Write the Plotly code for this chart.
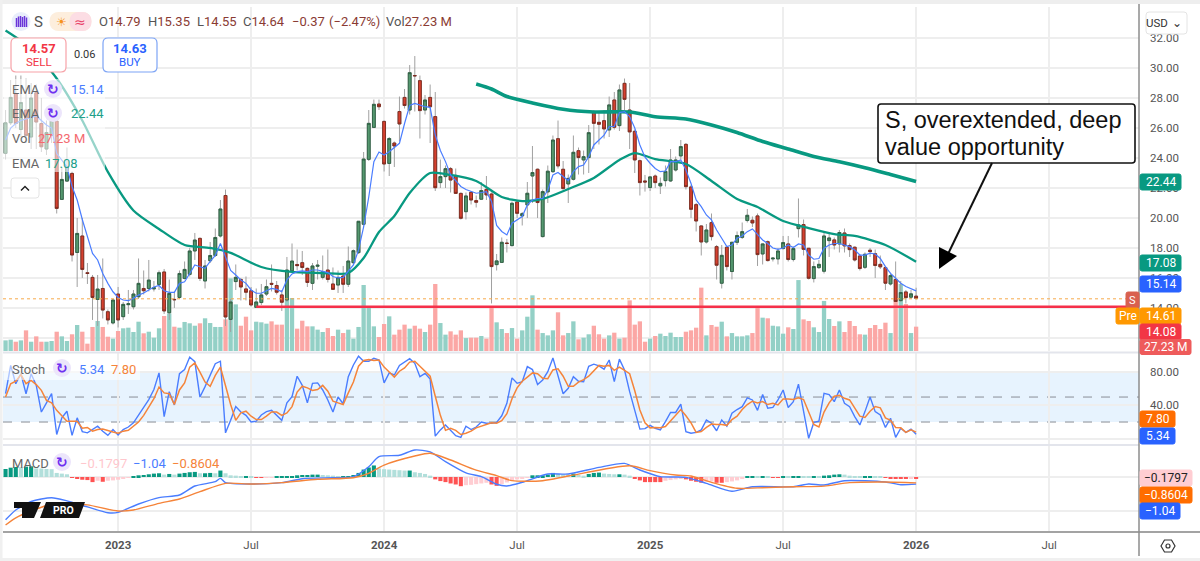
import pandas as pd
import plotly.graph_objects as go

opens = [24.31,26.35,28.3,25.9,27.2,25.4,28.35,26.3,24.6,25.5,26.46,21.24,22.46,22.97,17.7,18.8,16.35,16.04,14.57,15.3,
13.75,13.0,14.93,13.42,14.22,14.08,14.75,15.3,15.3,15.27,15.57,16.4,13.68,14.57,14.7,15.97,16.24,17.8,18.64,15.8,
17.15,17.5,18.8,21.5,13.24,15.76,15.9,15.27,15.15,14.04,14.36,14.93,15.64,15.5,14.87,14.53,16.48,16.9,17.02,16.64,
15.64,16.78,16.04,16.53,15.6,15.53,16.13,15.58,17.02,17.69,19.58,23.91,26.04,27.6,26.44,23.64,25.0,27.1,28.04,27.2,
29.5,29.16,27.2,28.04,26.76,22.36,22.76,23.29,22.84,21.64,20.42,21.71,21.16,21.25,21.91,21.6,16.89,17.04,18.33,18.16,
21.07,20.14,20.87,22.8,23.25,18.76,21.74,23.09,25.29,23.25,22.27,22.58,24.49,23.87,24.03,27.09,26.38,26.49,25.87,27.87,
26.16,28.98,27.2,25.78,23.82,22.47,22.03,22.8,22.14,22.49,22.47,23.2,24.14,24.91,22.07,20.89,19.47,18.4,19.69,18.09,
15.65,18.05,16.43,18.38,18.71,19.83,19.85,20.14,17.6,18.42,17.27,17.27,17.96,18.27,17.23,19.29,19.56,17.98,15.96,16.69,
16.45,18.49,18.54,18.27,19.0,18.16,18.05,17.47,16.71,17.85,17.62,16.91,16.69,15.6,15.9,14.49,15.07,14.72,14.79]
highs = [27.2,29.2,29.5,29.5,29.3,29.0,28.9,28.0,26.5,27.5,26.6,23.4,24.7,23.1,20.0,20.0,17.0,16.2,16.2,17.3,
13.9,14.6,15.4,14.4,15.2,15.2,17.3,16.5,17.2,15.8,16.5,16.6,15.9,15.1,16.5,17.1,18.0,19.0,18.7,17.2,
18.4,19.3,21.2,21.9,14.6,16.9,16.0,16.1,15.4,15.3,15.6,15.9,16.9,15.8,15.2,17.4,18.3,17.9,17.8,16.7,
17.0,17.2,17.5,17.9,16.7,16.5,16.8,18.1,17.9,19.8,24.4,27.2,27.9,27.9,26.5,25.4,25.1,28.1,28.6,30.2,
30.8,29.5,28.2,28.9,28.4,23.9,23.5,23.4,23.3,21.7,21.7,21.8,21.5,22.4,22.8,21.7,17.6,18.7,18.6,21.1,
21.1,20.4,22.4,24.8,23.3,21.9,23.5,25.5,26.5,23.8,22.9,25.5,24.7,24.5,26.2,27.2,27.1,27.2,28.1,28.4,
28.9,29.3,29.0,25.9,23.9,22.87,22.8,22.9,22.7,23.5,24.6,24.1,25.2,25.0,22.2,21.0,19.5,19.6,20.3,18.2,
18.2,18.1,18.4,19.1,19.7,20.6,20.1,20.3,18.3,18.5,17.4,18.0,18.8,18.8,18.1,21.3,19.9,18.0,17.1,17.2,
19.1,19.0,18.7,19.2,19.3,18.3,18.1,17.6,17.7,18.0,17.9,17.5,16.8,16.3,17.1,15.8,15.2,15.2,15.35]
lows = [23.9,26.2,26.0,25.4,25.0,24.6,24.6,24.4,24.2,25.0,20.3,21.2,22.4,17.1,15.4,16.0,15.6,13.2,12.8,13.3,
12.9,12.9,12.7,13.2,13.6,13.9,14.6,14.9,15.1,15.1,15.2,13.6,13.2,14.0,14.6,15.9,16.1,17.2,15.8,15.3,
17.0,17.4,18.7,12.8,12.4,15.2,14.5,14.5,14.1,14.0,14.2,14.8,15.1,14.9,13.8,14.4,16.4,16.5,16.2,15.4,
15.2,15.9,15.9,15.7,15.2,15.0,15.0,15.4,16.9,17.6,19.5,23.8,26.0,27.2,23.1,22.8,23.4,25.1,27.3,26.9,
27.1,25.3,26.9,25.0,21.8,22.0,22.0,21.7,21.6,19.9,19.9,20.9,20.7,21.2,21.2,14.3,16.5,17.0,17.7,18.1,
20.0,19.5,20.0,21.0,20.0,18.7,21.0,23.0,23.3,21.9,21.0,22.5,22.9,22.9,23.0,24.6,24.9,25.3,25.4,25.9,
25.8,27.2,24.6,23.0,21.5,21.76,21.8,22.0,21.6,22.1,22.4,23.1,23.9,21.9,20.0,19.1,17.5,18.3,18.5,15.9,
15.3,16.5,15.9,18.2,18.6,19.7,19.4,16.8,16.9,17.1,17.1,16.9,17.9,17.1,17.1,18.7,17.5,15.9,15.7,16.6,
16.3,17.4,17.9,17.7,17.7,17.4,17.1,16.5,16.6,17.4,16.0,16.6,15.2,15.5,14.4,14.4,14.3,14.6,14.55]
closes = [26.35,28.04,26.3,27.7,25.5,28.0,26.4,24.75,25.7,26.5,20.64,22.57,23.4,17.53,18.97,16.57,16.3,14.7,15.26,13.86,
13.2,14.53,13.2,14.24,14.28,14.93,15.64,15.15,15.86,15.35,16.35,13.8,14.97,14.55,16.3,16.57,17.8,18.53,15.97,16.8,
17.5,18.7,20.6,13.4,14.4,16.04,15.4,15.05,14.2,14.4,14.87,15.42,15.58,15.05,14.38,16.53,17.13,16.82,16.7,15.7,
16.8,16.85,16.42,15.9,15.24,16.04,15.58,17.13,17.82,19.78,23.93,26.31,27.58,27.42,23.6,25.3,24.8,26.27,27.5,29.69,
29.48,27.16,27.87,27.42,22.02,22.76,23.29,22.53,21.64,19.98,21.47,21.2,21.05,21.83,21.54,16.76,17.14,18.38,18.3,20.98,
20.31,20.29,21.65,23.03,21.03,21.76,23.12,25.2,23.47,21.96,22.64,24.38,24.03,24.09,25.69,26.31,26.25,25.94,27.54,26.05,
28.54,27.91,25.74,23.87,22.36,22.4,22.74,22.36,22.31,23.11,23.87,23.87,24.76,22.09,20.58,19.8,18.4,19.2,18.76,16.85,
17.51,16.76,18.38,18.83,19.09,20.18,19.67,17.56,18.27,17.16,17.32,17.8,18.36,17.23,17.96,19.54,17.91,15.98,16.76,16.91,
18.8,18.67,18.2,19.03,18.14,17.89,17.2,16.63,17.58,17.76,16.83,16.74,15.65,16.16,14.43,15.03,14.69,14.94,14.64]
volumes = [11.9,12.7,10.4,11.9,23.1,10.4,16.4,10.4,10.4,11.2,21.6,16.4,11.2,18.7,29.1,21.6,8.2,26.9,33.6,26.9,
16.0,13.8,22.4,25.4,26.1,21.3,32.8,19.8,21.6,14.9,25.4,39.2,42.1,27.2,26.1,32.5,31.0,28.3,31.0,36.6,
31.3,26.9,26.9,35.4,81.3,52.2,28.3,38.4,23.1,32.8,32.1,30.6,33.2,29.5,29.5,59.3,59.3,25.0,33.9,27.6,
27.6,23.9,21.3,25.7,16.8,23.9,20.1,23.9,13.8,26.9,73.9,50.4,27.6,15.7,30.2,38.8,18.3,23.9,29.5,25.0,
28.3,25.0,21.3,29.5,75.0,31.3,18.3,22.0,18.3,23.1,14.5,14.9,14.9,16.8,13.8,49.2,32.1,24.6,20.1,25.7,
13.8,23.1,38.4,62.3,23.9,20.1,17.5,23.1,43.3,17.5,20.1,33.2,13.1,14.9,18.7,28.3,18.7,13.8,17.5,20.5,
13.8,14.9,56.7,29.5,33.2,10.4,13.8,16.8,19.4,16.8,20.5,15.7,15.7,21.6,23.1,26.1,70.9,17.5,29.1,27.2,
32.8,16.4,20.1,16.4,16.4,17.5,20.1,50.0,37.3,36.6,28.3,27.6,19.4,26.5,24.6,79.4,35.4,33.6,26.5,21.3,
56.0,35.8,28.0,33.2,21.3,33.6,28.0,18.7,18.3,25.7,29.1,24.6,31.7,20.1,59.3,75.0,52.6,20.1,27.23]
ema_fast = [25.2,26.0,26.3,26.5,26.6,26.7,26.8,26.5,26.2,26.0,24.3,23.86,23.4,22.1,21.2,19.9,18.75,17.64,17.2,16.3,
15.64,15.08,14.7,14.53,14.49,14.64,14.86,15.0,15.2,15.4,15.5,15.15,15.04,15.04,15.64,15.75,16.3,16.87,16.75,16.64,
17.1,17.5,18.3,17.4,16.5,16.2,15.87,15.64,15.2,14.98,14.98,15.15,15.3,15.24,15.09,15.87,16.27,16.42,16.47,16.42,
16.53,16.53,16.42,16.36,16.1,16.0,16.04,16.42,16.87,17.87,19.4,21.4,23.76,24.4,24.2,24.42,24.7,24.98,26.3,27.5,
27.64,27.53,27.42,27.38,25.53,24.5,23.76,22.87,22.5,22.1,21.9,21.76,21.65,21.7,21.76,21.1,19.5,19.1,18.87,19.65,
19.87,20.1,20.87,21.2,21.3,21.3,21.87,22.87,23.03,22.76,22.5,23.1,23.43,23.53,24.09,24.87,25.2,25.53,26.1,26.1,
27.03,27.09,26.76,26.0,24.87,24.05,23.65,23.3,23.09,23.13,23.76,23.76,23.87,23.2,22.3,21.2,20.76,20.2,19.87,19.2,
18.65,18.09,18.2,18.65,18.8,19.09,19.27,18.87,18.53,18.3,18.0,17.91,18.0,18.2,18.03,18.27,18.2,17.53,17.25,17.3,
17.98,18.2,18.3,18.3,18.2,18.09,17.87,17.53,17.53,17.65,17.6,17.3,16.76,16.3,15.98,15.65,15.43,15.27,15.14]
ema_mid_bars = [0,5,10,15,20,25,30,35,40,44,50,56,62,67,70,73,76,79,83,87,92,97,101,105,110,115,120,123,127,133,138,143,147,152,157,162,166,172,178]
ema_mid = [32.5,31.3,29.3,26.5,23.07,20.5,19.27,18.2,18.0,17.67,16.73,16.4,16.33,16.33,17.33,19.07,20.13,21.67,23.0,22.87,22.47,21.4,21.13,21.27,21.93,22.67,23.87,24.33,23.93,23.6,22.47,21.27,20.73,19.8,19.33,18.93,18.8,18.2,17.08]
ema_slow_bars = [92,95,98,103,109,115,122,127,133,138,143,148,153,158,163,168,173,178]
ema_slow = [28.93,28.6,28.1,27.67,27.25,27.07,27.07,26.75,26.6,26.2,25.7,25.1,24.6,24.1,23.75,23.35,22.9,22.44]
stoch_k = [54,88,66,78,54,78,64,32,43,54,5,25,33,4,25,8.5,7,10.5,15,9,
4,11,4.5,11,14,19,28,38,47,59,79,26.5,56.5,40.5,78,83,98,92.5,50,62.5,
76.5,90,93,7,22,38.5,32,28,20,21,28.5,32.5,34,28.5,22,43,50.5,75,64,43,
66.5,67,58.5,46.5,32,50,42,74.5,88.5,99,93,93,96.5,94.5,67,79,76.5,88,92.5,96,
90.5,74.5,78.5,71.5,3,10.5,16.5,10.5,3.5,1.5,15,11,14,20,18.5,18.5,19.5,27.5,42.5,73,
66.5,68.5,86.5,83,65,70.5,80.5,97,74.5,54,60.5,74.5,69,68.5,87,89.5,87.5,83.5,94.5,68.5,
95.5,82.5,56.5,34.5,11.5,12,16,12.5,10.5,20.5,31.5,31.5,41.5,8.5,6.5,7.5,10.5,22.5,18.5,9.5,
22.5,15,30.5,35,38.5,49,46.5,34,53,36.5,37.5,46.5,58.5,37.5,44.5,65.5,30.5,0.5,19.5,21,
54.5,53,44.5,58.5,42.5,38.5,26.5,16.5,32.5,50,32.5,28.5,13.5,24.5,1.5,12.5,7.5,11.5,5.34]
stoch_d = [50,66,69,77,66,70,65,58,46,43,34,28,21,21,21,12.5,13.5,9,11,11.5,
9.5,8,6.5,9,10,15,20,28,38,48,62,55,54,41,58.5,67,86,91,80,68,
63,76,86,63,41,22,31,33,27,23,23,27,32,32,28,31,38.5,56,63,61,
58,59,64,57,45,43,41,55,68,87,94,95,94,94.5,86,80,74,81,85,92,
93,87,81,75,51,28,10,12.5,10,5,6.5,9,13,15,17.5,19,18.5,21.5,30,48,
61,69,74,79,78,72.5,72,82.5,84,75,63,63,68,71,75,82,88,87,88,82,
86,82,78,57.5,34.5,19,13,13.5,13,14.5,21,27.5,35,27.5,19,7.5,8.5,13.5,17.5,17,
17,16,23,27,35,41,45,43,44.5,41,42.5,40.5,47.5,47.5,47,49,47,32,17,14,
32,43,51,52,48.5,46.5,36,27,25.5,33,38.5,37,25,22,13.5,13,7.5,10.5,7.8]
macd_bars = [0,2,5,9,12,16,20,22,26,30,34,37,41,42,43,48,54,58,64,68,71,73,77,80,83,86,90,93,95,96,98,101,106,110,116,121,124,128,133,137,142,146,154,157,160,164,172,175,178]
macd_line = [-6.3,-4.85,-3.6,-3.04,-3.5,-4.4,-5.25,-5.2,-3.97,-3.04,-2.65,-1.32,-0.69,-0.2,-0.83,-1.03,-0.83,-0.25,-0.1,0.05,1.5,3.0,3.2,3.97,3.7,2.25,0.6,0.05,-0.69,-1.07,-1.32,-0.78,0.44,0.44,1.42,2.0,1.03,0.05,-0.05,-0.93,-2.1,-1.43,-1.43,-1.03,-1.18,-0.54,-0.74,-1.13,-1.04]
signal_bars = [0,2,5,9,12,16,22,25,30,34,38,43,48,54,61,68,71,74,80,83,87,92,96,99,105,110,122,126,131,134,138,143,147,154,160,165,172,178]
signal_line = [-7.06,-6.0,-5.0,-4.0,-3.9,-4.1,-5.0,-4.85,-3.87,-3.24,-2.16,-0.93,-1.03,-0.83,-0.34,-0.1,0.54,1.76,3.09,3.5,2.5,1.0,0.2,-0.54,-0.54,0.15,1.66,0.93,0.29,0.15,-0.78,-1.66,-1.6,-1.43,-1.34,-0.83,-0.74,-0.86]
macd_hist = [1.18,1.37,1.47,1.45,1.52,1.57,1.27,1.25,1.18,1.15,0.6,0.5,0.4,-0.1,-0.2,-0.4,-0.45,-0.75,-0.55,-0.7,
-0.55,-0.5,-0.4,-0.2,-0.05,0.1,0.25,0.3,0.4,0.5,0.55,0.35,0.45,0.35,0.5,0.6,0.7,0.75,0.55,0.55,
0.6,0.55,0.95,0.55,0.25,0.2,0.1,0.1,0.05,-0.05,-0.1,-0.05,-0.03,0.05,0.05,0.1,0.15,0.25,0.3,0.3,
0.35,0.35,0.3,0.25,0.2,0.1,0.1,0.1,0.3,0.6,1.1,1.4,1.7,1.25,1.15,1.1,1.05,1.0,0.95,0.95,
0.7,0.6,0.45,0.2,-0.35,-0.6,-0.75,-0.95,-1.1,-1.35,-1.2,-1.15,-1.05,-0.95,-0.85,-1.1,-1.3,-1.05,-0.8,-0.55,
-0.35,-0.15,-0.1,0.25,0.25,0.25,0.35,0.6,0.45,0.4,0.35,0.5,0.3,0.2,0.45,0.6,0.65,0.5,0.45,0.4,
0.4,0.35,0.2,-0.25,-0.5,-0.75,-0.75,-0.75,-0.75,-0.55,-0.45,-0.35,-0.25,-0.35,-0.55,-0.7,-0.85,-0.7,-0.65,-0.85,
-0.85,-0.75,-0.65,-0.5,-0.3,0.05,0.1,0.05,0.05,0.03,-0.03,-0.03,0.08,0.03,0.05,0.15,0.08,0.03,0.03,0.02,
0.2,0.25,0.35,0.4,0.35,0.2,0.15,0.1,0.1,0.15,0.05,0.02,-0.1,-0.15,-0.15,-0.2,-0.25,-0.15,-0.18]

support_level = 14.08
premarket_price = 14.61
price_ticks = [12,14,16,18,20,22,24,26,28,30,32]
stoch_ticks = [0,40,80]
stoch_levels = [80,50,20]
macd_ticks = [-5,0]
time_ticks = ["2023-01-02","2023-07-03","2024-01-01","2024-07-01","2024-12-30","2025-06-30","2025-12-29","2026-06-29"]
time_labels = ["<b>2023</b>","Jul","<b>2024</b>","Jul","<b>2025</b>","Jul","<b>2026</b>","Jul"]

dates = pd.date_range("2022-08-01", periods=len(closes), freq="7D")
x_range = ["2022-07-28 12:00", "2026-10-30"]
W, H = 1200, 561
def px(x): return x / W
def py(y): return 1 - y / H

UP_BODY, UP_EDGE = "#55986f", "#2c5d42"
DN_BODY, DN_EDGE = "#d5402f", "#7c2a1e"
WICK = "#a0a0a0"
GRID = "#eeeeee"
TEAL, BLUE, ORANGE, RED = "#089981", "#2962ff", "#ff6d00", "#f23645"
FONT = "Roboto"

is_up = [c >= o for o, c in zip(opens, closes)]
vol_colors = ["#93d0c6" if u else "#fba7a5" for u in is_up]
hist_colors = []
prev = 0
for v in macd_hist:
    if v >= 0:
        hist_colors.append(TEAL if v >= prev else "#b2dfdb")
    else:
        hist_colors.append("#ff5252" if v <= prev else "#ffcdd2")
    prev = v
body_hi = [max(o, c) for o, c in zip(opens, closes)]
body_lo = [min(o, c) for o, c in zip(opens, closes)]
day_ms = 86400000
SMOOTH = dict(shape="spline", smoothing=0.7)

fig = go.Figure()
fig.add_trace(go.Bar(x=dates, y=volumes, marker=dict(color=vol_colors, line_width=0), width=5.9*day_ms, yaxis="y", xaxis="x", hoverinfo="skip"))
fig.add_trace(go.Candlestick(x=dates, open=opens, high=highs, low=lows, close=closes, yaxis="y2", xaxis="x", whiskerwidth=0,
    increasing=dict(line=dict(color=WICK, width=1), fillcolor=UP_BODY),
    decreasing=dict(line=dict(color=WICK, width=1), fillcolor=DN_BODY), hoverinfo="skip"))
fig.add_trace(go.Candlestick(x=dates, open=opens, high=body_hi, low=body_lo, close=closes, yaxis="y2", xaxis="x", whiskerwidth=0,
    increasing=dict(line=dict(color=UP_EDGE, width=0.9), fillcolor=UP_BODY),
    decreasing=dict(line=dict(color=DN_EDGE, width=0.9), fillcolor=DN_BODY), hoverinfo="skip"))
fig.add_trace(go.Scatter(x=dates[ema_mid_bars], y=ema_mid, mode="lines", line=dict(color=TEAL, width=2.3, **SMOOTH), yaxis="y2", hoverinfo="skip"))
fig.add_trace(go.Scatter(x=dates[ema_slow_bars], y=ema_slow, mode="lines", line=dict(color=TEAL, width=3.6, **SMOOTH), yaxis="y2", hoverinfo="skip"))
fig.add_trace(go.Scatter(x=dates, y=ema_fast, mode="lines", line=dict(color="#4a7dff", width=1.2), yaxis="y2", hoverinfo="skip"))
fig.add_trace(go.Scatter(x=[dates[49], x_range[1]], y=[support_level]*2, mode="lines", line=dict(color="#f5304a", width=2.6), yaxis="y2", hoverinfo="skip"))
fig.add_trace(go.Scatter(x=dates, y=stoch_k, mode="lines", line=dict(color="#4a7dff", width=1.4), yaxis="y3", hoverinfo="skip"))
fig.add_trace(go.Scatter(x=dates, y=stoch_d, mode="lines", line=dict(color="#f5843a", width=1.5), yaxis="y3", hoverinfo="skip"))
fig.add_trace(go.Bar(x=dates, y=macd_hist, marker=dict(color=hist_colors, line_width=0), width=5.6*day_ms, yaxis="y4", hoverinfo="skip"))
fig.add_trace(go.Scatter(x=dates[macd_bars], y=macd_line, mode="lines", line=dict(color="#4a7dff", width=1.4, **SMOOTH), yaxis="y4", hoverinfo="skip"))
fig.add_trace(go.Scatter(x=dates[signal_bars], y=signal_line, mode="lines", line=dict(color="#f5843a", width=1.4, **SMOOTH), yaxis="y4", hoverinfo="skip"))

shapes, ann = [], []
def rect(x0, y0, x1, y1, fill="rgba(0,0,0,0)", line=None, lw=1, layer="above"):
    shapes.append(dict(type="rect", xref="paper", yref="paper", x0=px(x0), x1=px(x1), y0=py(y0), y1=py(y1),
                       fillcolor=fill, line=dict(color=line or "rgba(0,0,0,0)", width=lw if line else 0), layer=layer))
def seg(x0, y0, x1, y1, color, lw=1, layer="above"):
    shapes.append(dict(type="line", xref="paper", yref="paper", x0=px(x0), x1=px(x1), y0=py(y0), y1=py(y1),
                       line=dict(color=color, width=lw), layer=layer))
def poly(points, fill, line=None, lw=0):
    p = "M " + " L ".join(f"{px(x):.5f},{py(y):.5f}" for x, y in points) + " Z"
    shapes.append(dict(type="path", xref="paper", yref="paper", path=p, fillcolor=fill,
                       line=dict(color=line or fill, width=lw)))
def rrect(x0, y0, x1, y1, r, fill, line, lw=1):
    p = (f"M {px(x0+r)},{py(y0)} L {px(x1-r)},{py(y0)} Q {px(x1)},{py(y0)} {px(x1)},{py(y0+r)} "
         f"L {px(x1)},{py(y1-r)} Q {px(x1)},{py(y1)} {px(x1-r)},{py(y1)} L {px(x0+r)},{py(y1)} "
         f"Q {px(x0)},{py(y1)} {px(x0)},{py(y1-r)} L {px(x0)},{py(y0+r)} Q {px(x0)},{py(y0)} {px(x0+r)},{py(y0)} Z")
    shapes.append(dict(type="path", xref="paper", yref="paper", path=p, fillcolor=fill, line=dict(color=line, width=lw)))
def text(x, y, s, size=13, color="#555555", anchor="left", family=FONT):
    ann.append(dict(xref="paper", yref="paper", x=px(x), y=py(y), text=s, showarrow=False, xanchor=anchor, yanchor="middle",
                    font=dict(size=size, color=color, family=family), borderpad=0, borderwidth=0))
def tag(x0, x1, y, s, bg, color="#ffffff", h=16, size=12):
    rrect(x0, y - h/2, x1, y + h/2, 2, bg, bg)
    text((x0 + x1) / 2, y, s, size=size, color=color, anchor="center")

shapes.append(dict(type="rect", xref="paper", yref="y3", x0=px(3), x1=px(1139), y0=20, y1=80,
                   fillcolor="rgba(33,150,243,0.11)", line_width=0, layer="below"))
for lv in stoch_levels:
    shapes.append(dict(type="line", xref="paper", yref="y3", x0=px(3), x1=px(1139), y0=lv, y1=lv,
                       line=dict(color="#8a8d96", width=1, dash="dash"), layer="below"))
shapes.append(dict(type="line", xref="paper", yref="y2", x0=px(3), x1=px(1130), y0=premarket_price, y1=premarket_price,
                   line=dict(color="#f7a94a", width=1, dash="dot"), layer="above"))

rect(0, 0, 1200, 4, "#eeeeee"); rect(0, 0, 2.5, 561, "#f0f0f0"); rect(0, 558, 1200, 561, "#f0f0f0")
seg(3, 352.5, 1139, 352.5, "#e3e5ec", 2); seg(3, 445, 1139, 445, "#e3e5ec", 2)
seg(3, 532, 1200, 532, "#a3a3a3", 2); seg(1139, 4, 1139, 556, "#8c8c8c", 1.5)

rect(4, 79, 105, 172, "rgba(255,255,255,0.58)")
rect(4, 360, 140, 380, "rgba(255,255,255,0.55)")

shapes.append(dict(type="circle", xref="paper", yref="paper", x0=px(11.5), x1=px(30.5), y0=py(31), y1=py(12), fillcolor="#e9eefb", line_width=0))
for bx, top in zip([16.5,18.5,20.5,22.5,24.5,26.5], [18,16.5,16,17,16,17.5]):
    seg(bx, top, bx, 27, "#6a35d8", 1.5)
text(34, 22, "S", size=15, color="#555555")
rrect(50, 12.5, 91, 30.5, 9, "#fdeedd", "#fdeedd")
rrect(70, 12.5, 91, 30.5, 9, "#fcdde4", "#fcdde4")
text(61, 21.5, "☀", size=12, color="#f7931e", anchor="center", family="DejaVu Sans")
text(79.5, 21.5, "≈", size=14, color="#e8436a", anchor="center", family="DejaVu Sans")
vc = "#8a3b33"
for xp, label, val in [(99,"O","14.79"),(148,"H","15.35"),(197,"L","14.55"),(243,"C","14.64")]:
    text(xp, 22, f'<span style="color:#555555">{label}</span><span style="color:{vc}">{val}</span>')
text(292, 22, "−0.37", color=vc); text(329, 22, "(−2.47%)", color=vc)
text(386, 22, f'<span style="color:#555555">Vol</span><span style="color:{vc}">27.23 M</span>')

rrect(11, 38, 66, 72, 5, "#ffffff", "#f7a2a8", 1.2)
text(38.5, 48, "<b>14.57</b>", size=13, color=RED, anchor="center")
text(38.5, 62, "SELL", size=11.5, color=RED, anchor="center")
text(84, 54.5, "0.06", size=11, color="#333333", anchor="center")
rrect(103, 38, 157, 72, 5, "#ffffff", "#7da4f5", 1.2)
text(130, 48, "<b>14.63</b>", size=13, color=BLUE, anchor="center")
text(130, 62, "BUY", size=11.5, color=BLUE, anchor="center")

def cycle(cx, cy):
    shapes.append(dict(type="circle", xref="paper", yref="paper", x0=px(cx-9), x1=px(cx+9), y0=py(cy+9), y1=py(cy-9), fillcolor="#ece5fb", line_width=0))
    text(cx, cy, "<b>↻</b>", size=14, color="#6f2ff0", anchor="center", family="DejaVu Sans")
text(12, 89, "EMA", color="#666666"); cycle(53, 89); text(71, 89, "15.14", color="#4a7dff")
text(12, 113, "EMA", color="#666666"); cycle(53, 113); text(71, 113, "22.44", color="#22a08a")
text(12, 138, "Vol", color="#666666"); text(38, 138, "27.23 M", color="#f4696f")
text(12, 163, "EMA", color="#666666"); text(45, 163, "17.08", color="#22a08a")
rrect(11, 178, 39, 198, 3, "#ffffff", "#e4e4e4", 1)
poly([(20.5,190),(25,185.5),(29.5,190),(28.5,191),(25,187.5),(21.5,191)], "#222222")

tag(1140, 1181, 182, "22.44", TEAL)
tag(1140, 1181, 263, "17.08", TEAL)
tag(1140, 1181, 284, "15.14", BLUE)
tag(1126, 1139, 300, "S", "#d9604f", size=11)
tag(1116, 1139, 316, "Pre", "#ff9800")
tag(1140, 1181, 316, "14.61", "#ff9800")
tag(1140, 1181, 332, "14.08", "#f23645")
tag(1140, 1191, 347, "27.23 M", "#ee5b5b", h=15)
tag(1140, 1175, 419, "7.80", ORANGE)
tag(1140, 1175, 436, "5.34", BLUE)
tag(1140, 1192, 478, "−0.1797", "#ffcdd2", color="#222222")
tag(1140, 1192, 495, "−0.8604", ORANGE)
tag(1140, 1180, 511, "−1.04", BLUE)

rrect(1146, 12, 1187, 34, 3, "#ffffff", "#e4e4e4", 1)
text(1157, 23, "USD", size=11.5, color="#333333", anchor="center")
text(1177, 23, "⌄", size=12, color="#333333", anchor="center", family="DejaVu Sans")
poly([(1161,546),(1164.5,540),(1171.5,540),(1175,546),(1171.5,552),(1164.5,552)], "#ffffff", "#333333", 1.2)
shapes.append(dict(type="circle", xref="paper", yref="paper", x0=px(1166), x1=px(1170), y0=py(548), y1=py(544), fillcolor="#ffffff", line=dict(color="#333333", width=1.2)))

text(12, 369, "Stoch", color="#666666"); cycle(62, 368)
text(79, 369, "5.34", color="#4a7dff"); text(111, 369, "7.80", color="#f5843a")
text(12, 463, "MACD", color="#666666"); cycle(62, 462)
text(80, 463, "−0.1797", color="#ffc7cd"); text(133, 463, "−1.04", color="#4a7dff"); text(172, 463, "−0.8604", color="#f5843a")

poly([(14,502),(30,502),(30,518),(22,518),(22,508),(14,508)], "#111111")
poly([(29,502),(41,502),(34,518),(26,518)], "#111111")
shapes.append(dict(type="circle", xref="paper", yref="paper", x0=px(31), x1=px(37), y0=py(508), y1=py(502), fillcolor="#111111", line_width=0))
poly([(46,502),(85,502),(79,518),(40,518)], "#111111")
text(63, 510, "<b>PRO</b>", size=10.5, color="#ffffff", anchor="center")

rrect(878, 104, 1135, 163, 3, "#ffffff", "#111111", 1.6)
text(885, 120, "S, overextended, deep", size=23.5, color="#111111", family="Liberation Sans")
text(885, 147, "value opportunity", size=23.5, color="#111111", family="Liberation Sans")
seg(992, 163, 948, 254, "#111111", 2)
poly([(939,247),(957,256),(939,269)], "#000000")

fig.update_layout(
    width=W, height=H, autosize=False, margin=dict(l=0, r=0, t=0, b=0),
    paper_bgcolor="#ffffff", plot_bgcolor="#ffffff", showlegend=False,
    barmode="overlay", boxmode="overlay", boxgap=0.2, hovermode=False,
    font=dict(family=FONT, size=11.5, color="#555555"),
    shapes=shapes, annotations=ann,
    xaxis=dict(domain=[px(3), px(1139)], anchor="y4", type="date", range=x_range, rangeslider=dict(visible=False),
               tickmode="array", tickvals=time_ticks, ticktext=time_labels, showgrid=True, gridcolor=GRID, gridwidth=1.5,
               ticks="", ticklabelstandoff=5, showline=False, zeroline=False, tickfont=dict(size=11.5, color="#555555")),
    yaxis=dict(domain=[py(351), py(7)], range=[0, 385], visible=False, fixedrange=True),
    yaxis2=dict(domain=[py(351), py(7)], range=[11.13, 34.07], overlaying="y", side="right", anchor="x",
                tickmode="array", tickvals=price_ticks, ticktext=[""] + [f"{t:.2f}" for t in price_ticks[1:]],
                showgrid=True, gridcolor=GRID, gridwidth=1.5, ticks="", ticklabelstandoff=10, zeroline=False, showline=False),
    yaxis3=dict(domain=[py(444), py(353)], range=[-6.4, 102.9], side="right", anchor="x",
                tickmode="array", tickvals=stoch_ticks, ticktext=["", "40.00", "80.00"],
                showgrid=True, gridcolor=GRID, gridwidth=1.5, ticks="", ticklabelstandoff=10, zeroline=False, showline=False),
    yaxis4=dict(domain=[py(531), py(446)], range=[-7.94, 4.56], side="right", anchor="x",
                tickmode="array", tickvals=macd_ticks, ticktext=["", ""],
                showgrid=True, gridcolor=GRID, gridwidth=1.5, ticks="", zeroline=False, showline=False),
)

fig.write_html("out.html", config={"displayModeBar": False}, post_script="document.body.style.margin='0';")
